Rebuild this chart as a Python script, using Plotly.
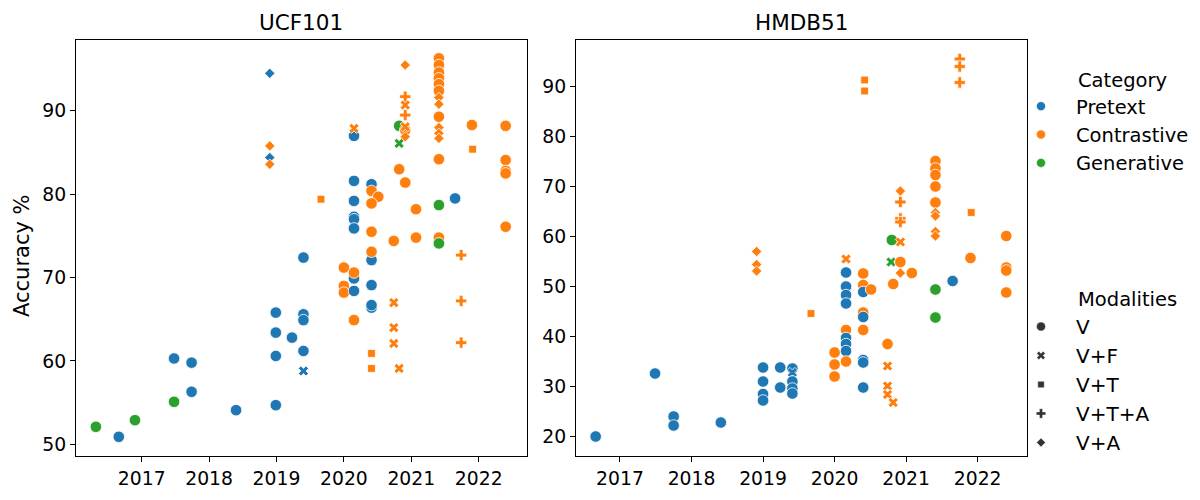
import plotly.graph_objects as go

# ---------------- data ----------------
CATEGORIES = ["Pretext", "Contrastive", "Generative"]
CAT_COLORS = ["#1f77b4", "#ff7f0e", "#2ca02c"]
MODALITIES = ["V", "V+F", "V+T", "V+T+A", "V+A"]
MOD_SYMBOLS = ["circle", "x", "square", "cross", "diamond"]
MOD_SIZES = [11.5, 9, 7.8, 9.4, 8]
LEGEND_MOD_SIZES = [9, 7.5, 6.5, 8, 6.8]
YEAR_TICKS = [2017, 2018, 2019, 2020, 2021, 2022]
UCF_YTICKS = [50, 60, 70, 80, 90]
HMDB_YTICKS = [20, 30, 40, 50, 60, 70, 80, 90]

P, C, G = "Pretext", "Contrastive", "Generative"

ucf_year = [2016.32, 2016.66, 2016.90, 2017.48, 2017.48, 2017.74, 2017.74, 2018.40,
            2018.90, 2018.90, 2018.90, 2018.90,
            2018.99, 2018.99, 2018.99, 2018.99, 2019.23,
            2019.40, 2019.40, 2019.40, 2019.40, 2019.40, 2019.66,
            2020.00, 2020.00, 2020.00,
            2020.15, 2020.15, 2020.15, 2020.15, 2020.15, 2020.15, 2020.15, 2020.15, 2020.15, 2020.15, 2020.15,
            2020.41, 2020.41, 2020.51, 2020.41, 2020.41, 2020.41, 2020.41, 2020.41, 2020.41, 2020.41, 2020.41, 2020.41,
            2020.74, 2020.74, 2020.74, 2020.74, 2020.82, 2020.82, 2020.82, 2020.82,
            2020.91, 2020.91, 2020.91, 2020.91, 2020.91, 2020.91, 2020.91, 2020.91,
            2021.07, 2021.07,
            2021.41, 2021.41, 2021.41, 2021.41, 2021.41, 2021.41, 2021.41, 2021.41, 2021.41,
            2021.41, 2021.41, 2021.41, 2021.41, 2021.41, 2021.41, 2021.41,
            2021.65, 2021.74, 2021.74, 2021.74, 2021.90, 2021.91,
            2022.40, 2022.40, 2022.40, 2022.40, 2022.40]
ucf_acc = [52.1, 50.9, 52.9, 60.3, 55.1, 59.8, 56.3, 54.1,
           94.5, 84.4, 85.8, 83.6,
           65.8, 63.4, 60.6, 54.7, 62.8,
           72.4, 65.6, 64.9, 61.2, 58.8, 79.4,
           71.2, 69.0, 68.2,
           87.0, 87.9, 81.6, 79.2, 77.3, 77.0, 75.9, 69.9, 68.4, 70.6, 64.9,
           81.2, 80.4, 79.7, 78.9, 75.5, 72.1, 73.1, 69.1, 66.4, 66.7, 60.9, 59.1,
           74.4, 67.0, 64.0, 62.1, 59.1, 83.0, 88.2, 86.1,
           95.5, 91.7, 90.7, 89.5, 87.7, 88.1, 86.9, 81.4,
           78.2, 74.8,
           96.3, 95.5, 94.6, 93.9, 93.2, 92.4, 91.6, 90.8, 89.3,
           88.0, 87.3, 86.7, 84.2, 78.7, 74.8, 74.1,
           79.5, 72.7, 67.2, 62.2, 88.3, 85.4,
           88.2, 84.1, 82.8, 82.5, 76.1]
ucf_cat = [G, P, G, P, G, P, P, P,
           P, P, C, C,
           P, P, P, P, P,
           P, P, P, P, P, C,
           C, C, C,
           P, C, P, P, P, P, P, P, P, C, C,
           P, C, C, C, C, P, C, P, P, P, C, C,
           C, C, C, C, C, C, G, G,
           C, C, C, C, C, C, C, C,
           C, C,
           C, C, C, C, C, C, C, C, C,
           C, C, C, C, G, C, G,
           P, C, C, C, C, C,
           C, C, C, C, C]
ucf_mod = ["V", "V", "V", "V", "V", "V", "V", "V",
           "V+A", "V+A", "V+A", "V+A",
           "V", "V", "V", "V", "V",
           "V", "V", "V", "V", "V+F", "V+T",
           "V", "V", "V",
           "V", "V+F", "V", "V", "V", "V", "V", "V", "V", "V", "V",
           "V", "V", "V", "V", "V", "V", "V", "V", "V", "V", "V+T", "V+T",
           "V", "V+F", "V+F", "V+F", "V+F", "V", "V", "V+F",
           "V+A", "V+T+A", "V+F", "V+T+A", "V", "V+F", "V+A", "V",
           "V", "V",
           "V", "V", "V", "V", "V", "V", "V+A", "V+A", "V",
           "V+A", "V+A", "V+A", "V", "V", "V", "V",
           "V", "V+T+A", "V+T+A", "V+T+A", "V", "V+T",
           "V", "V", "V", "V", "V"]

hmdb_year = [2016.66, 2017.49, 2017.75, 2017.75, 2018.41,
             2018.91, 2018.91, 2018.91,
             2019.00, 2019.00, 2019.00, 2019.00, 2019.24, 2019.24,
             2019.41, 2019.41, 2019.41, 2019.41, 2019.41,
             2019.67, 2020.00, 2020.00, 2020.00,
             2020.16, 2020.16, 2020.16, 2020.16, 2020.16, 2020.16, 2020.16, 2020.16, 2020.16, 2020.16,
             2020.40, 2020.40, 2020.40, 2020.51, 2020.40, 2020.40, 2020.40, 2020.40, 2020.40, 2020.40,
             2020.42, 2020.42,
             2020.74, 2020.74, 2020.74, 2020.74, 2020.82, 2020.80, 2020.79, 2020.82,
             2020.92, 2020.92, 2020.92, 2020.92, 2020.92, 2020.92, 2020.92, 2021.08,
             2021.41, 2021.41, 2021.41, 2021.41, 2021.41, 2021.41, 2021.41, 2021.41, 2021.41,
             2021.41, 2021.41,
             2021.65, 2021.75, 2021.75, 2021.75, 2021.90, 2021.91,
             2022.40, 2022.40, 2022.40, 2022.40]
hmdb_acc = [19.9, 32.5, 23.9, 22.1, 22.7,
            56.9, 54.3, 53.0,
            33.7, 30.9, 28.4, 27.1, 33.7, 29.7,
            33.5, 32.7, 30.9, 29.5, 28.5,
            44.5, 36.7, 34.3, 31.9,
            55.4, 52.7, 49.9, 48.2, 46.5, 41.2, 39.6, 38.4, 37.0, 34.9,
            52.5, 50.2, 48.8, 49.3, 44.7, 43.8, 41.2, 35.2, 34.7, 29.7,
            91.2, 89.0,
            38.4, 34.0, 30.0, 28.3, 26.7, 59.2, 54.8, 50.4,
            69.0, 66.8, 63.5, 62.8, 58.8, 54.8, 52.6, 52.6,
            75.0, 73.5, 72.2, 69.9, 66.7, 64.7, 64.0, 60.9, 60.0,
            49.3, 43.7,
            51.0, 95.4, 93.9, 90.7, 55.6, 64.7,
            60.0, 53.7, 53.1, 48.7]
hmdb_cat = [P, P, P, P, P,
            C, C, C,
            P, P, P, P, P, P,
            P, P, P, P, P,
            C, C, C, C,
            C, P, P, P, P, C, P, P, P, C,
            C, C, P, C, C, P, C, P, P, P,
            C, C,
            C, C, C, C, C, G, G, C,
            C, C, C, C, C, C, C, C,
            C, C, C, C, C, C, C, C, C,
            G, G,
            P, C, C, C, C, C,
            C, C, C, C]
hmdb_mod = ["V", "V", "V", "V", "V",
            "V+A", "V+A", "V+A",
            "V", "V", "V", "V", "V", "V",
            "V", "V+F", "V", "V", "V",
            "V+T", "V", "V", "V",
            "V+F", "V", "V", "V", "V", "V", "V", "V", "V", "V",
            "V", "V", "V", "V", "V", "V", "V", "V", "V", "V",
            "V+T", "V+T",
            "V", "V+F", "V+F", "V+F", "V+F", "V", "V+F", "V",
            "V+A", "V+T+A", "V+T+A", "V+T+A", "V+F", "V", "V+A", "V",
            "V", "V", "V", "V", "V", "V+A", "V+A", "V+A", "V+A",
            "V", "V",
            "V", "V+T+A", "V+T+A", "V+T+A", "V", "V+T",
            "V", "V", "V", "V"]

# ---------------- figure ----------------
FONT = "DejaVu Sans"
W, H = 1200, 500
cat_color = dict(zip(CATEGORIES, CAT_COLORS))
mod_symbol = dict(zip(MODALITIES, MOD_SYMBOLS))
mod_size = dict(zip(MODALITIES, MOD_SIZES))

fig = go.Figure()


def add_points(years, accs, cats, mods, xa, ya):
    fig.add_trace(go.Scatter(
        x=years, y=accs, mode="markers", xaxis=xa, yaxis=ya, showlegend=False,
        marker=dict(color=[cat_color[c] for c in cats],
                    symbol=[mod_symbol[m] for m in mods],
                    size=[mod_size[m] for m in mods],
                    opacity=1,
                    line=dict(color="white", width=0.8)),
        hoverinfo="x+y"))


add_points(ucf_year, ucf_acc, ucf_cat, ucf_mod, "x", "y")
add_points(hmdb_year, hmdb_acc, hmdb_cat, hmdb_mod, "x2", "y2")

for cat, col in zip(CATEGORIES, CAT_COLORS):
    fig.add_trace(go.Scatter(x=[None], y=[None], mode="markers", name=cat, legend="legend",
                             marker=dict(symbol="circle", color=col, size=9, opacity=1,
                                         line=dict(color="white", width=0.5))))
for mod, sym, sz in zip(MODALITIES, MOD_SYMBOLS, LEGEND_MOD_SIZES):
    fig.add_trace(go.Scatter(x=[None], y=[None], mode="markers", name=mod, legend="legend2",
                             marker=dict(symbol=sym, color="#333333", size=sz, opacity=1,
                                         line=dict(color="white", width=0.5))))


def px_x(p):
    return p / W


def px_y(p):
    return 1 - p / H


axis_common = dict(showline=True, mirror=True, linecolor="black", linewidth=1,
                   ticks="outside", ticklen=5, tickwidth=1, tickcolor="black",
                   showgrid=False, zeroline=False,
                   tickfont=dict(family=FONT, size=18.8, color="black"))

fig.update_layout(
    width=W, height=H, margin=dict(l=0, r=0, t=0, b=0),
    paper_bgcolor="white", plot_bgcolor="white",
    font=dict(family=FONT, color="black"),
    xaxis=dict(domain=[px_x(76), px_x(527)], range=[2016.025, 2022.717],
               tickvals=YEAR_TICKS, ticktext=[str(t) for t in YEAR_TICKS], anchor="y", **axis_common),
    yaxis=dict(domain=[px_y(456), px_y(40)], range=[48.6, 98.5],
               tickvals=UCF_YTICKS, ticktext=[str(t) for t in UCF_YTICKS], anchor="x", **axis_common),
    xaxis2=dict(domain=[px_x(576), px_x(1027)], range=[2016.385, 2022.69],
                tickvals=YEAR_TICKS, ticktext=[str(t) for t in YEAR_TICKS], anchor="y2", **axis_common),
    yaxis2=dict(domain=[px_y(456), px_y(40)], range=[16.0, 99.2],
                tickvals=HMDB_YTICKS, ticktext=[str(t) for t in HMDB_YTICKS], anchor="x2", **axis_common),
    legend=dict(x=px_x(1006), y=px_y(87), xanchor="left", yanchor="top",
                bgcolor="rgba(0,0,0,0)", itemwidth=60, tracegroupgap=0,
                font=dict(family=FONT, size=19.5, color="black")),
    legend2=dict(x=px_x(1006), y=px_y(307), xanchor="left", yanchor="top",
                 bgcolor="rgba(0,0,0,0)", itemwidth=60, tracegroupgap=0,
                 font=dict(family=FONT, size=20, color="black")),
    annotations=[
        dict(text="UCF101", x=(px_x(76) + px_x(527)) / 2, y=px_y(22), xref="paper", yref="paper",
             showarrow=False, xanchor="center", yanchor="middle",
             font=dict(family=FONT, size=21.5, color="black")),
        dict(text="HMDB51", x=(px_x(576) + px_x(1027)) / 2, y=px_y(22), xref="paper", yref="paper",
             showarrow=False, xanchor="center", yanchor="middle",
             font=dict(family=FONT, size=21.5, color="black")),
        dict(text="Accuracy %", x=px_x(22), y=px_y(256), xref="paper", yref="paper",
             showarrow=False, xanchor="center", yanchor="middle", textangle=-90,
             font=dict(family=FONT, size=21, color="black")),
        dict(text="Category", x=px_x(1076), y=px_y(80), xref="paper", yref="paper",
             showarrow=False, xanchor="left", yanchor="middle",
             font=dict(family=FONT, size=19.5, color="black")),
        dict(text="Modalities", x=px_x(1076), y=px_y(299), xref="paper", yref="paper",
             showarrow=False, xanchor="left", yanchor="middle",
             font=dict(family=FONT, size=19.5, color="black")),
    ],
)

fig.write_html("out.html", config={"displayModeBar": False},
               post_script="document.body.style.margin='0';")
